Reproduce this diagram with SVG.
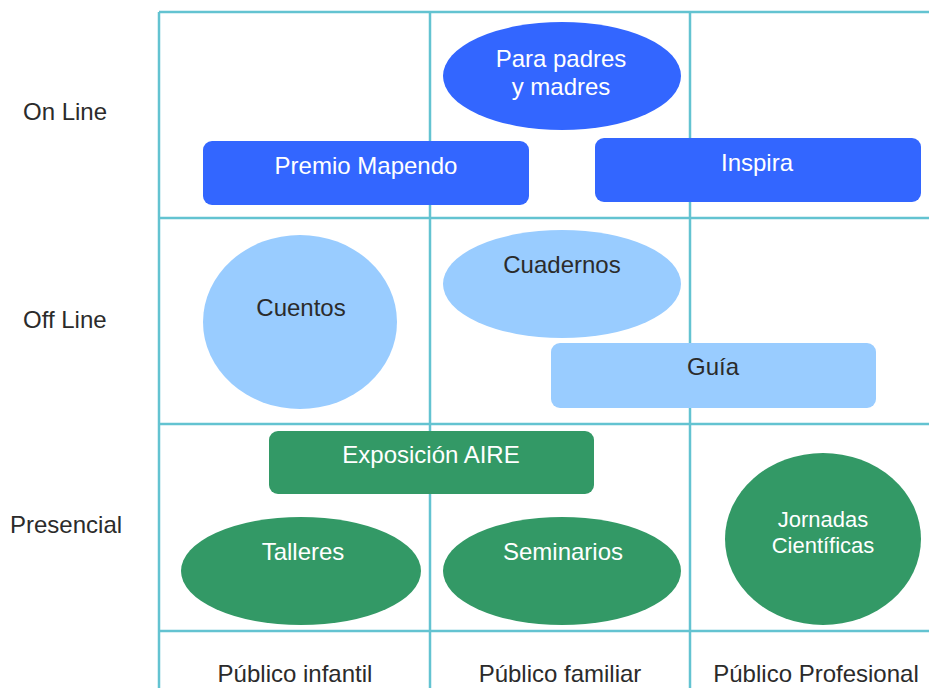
<svg xmlns="http://www.w3.org/2000/svg" width="929" height="688" viewBox="0 0 929 688">
<style>
.grid{stroke:#63c3d1;stroke-width:2.5;fill:none}
.blue{fill:#3366ff}
.light{fill:#99ccff}
.green{fill:#339966}
text{font-family:"Liberation Sans",Arial,sans-serif;font-size:24px}
.w{fill:#ffffff;text-anchor:middle}
.d{fill:#2b2b2b;text-anchor:middle}
.lbl{fill:#2b2b2b}
</style>
<rect width="929" height="688" fill="#ffffff"/>
<g id="grid">
<line class="grid" x1="159" y1="12" x2="159" y2="688"/>
<line class="grid" x1="430" y1="12" x2="430" y2="688"/>
<line class="grid" x1="690" y1="12" x2="690" y2="688"/>
<line class="grid" x1="159" y1="12" x2="929" y2="12"/>
<line class="grid" x1="159" y1="218" x2="929" y2="218"/>
<line class="grid" x1="159" y1="424" x2="929" y2="424"/>
<line class="grid" x1="159" y1="631" x2="929" y2="631"/>
</g>
<g id="labels">
<text class="lbl" x="23" y="120">On Line</text>
<text class="lbl" x="23" y="328">Off Line</text>
<text class="lbl" x="10" y="533">Presencial</text>
<text class="lbl" x="295" y="682" text-anchor="middle">Público infantil</text>
<text class="lbl" x="560" y="682" text-anchor="middle">Público familiar</text>
<text class="lbl" x="816" y="682" text-anchor="middle">Público Profesional</text>
</g>
<g id="padres">
<ellipse class="blue" cx="562" cy="76" rx="119" ry="54"/>
<text class="w" x="561" y="67">Para padres</text>
<text class="w" x="561" y="95">y madres</text>
</g>
<g id="premio">
<rect class="blue" x="203" y="141" width="326" height="64" rx="9"/>
<text class="w" x="366" y="174">Premio Mapendo</text>
</g>
<g id="inspira">
<rect class="blue" x="595" y="138" width="326" height="64" rx="9"/>
<text class="w" x="757" y="171">Inspira</text>
</g>
<g id="cuentos">
<ellipse class="light" cx="300" cy="322" rx="97" ry="87"/>
<text class="d" x="301" y="316">Cuentos</text>
</g>
<g id="cuadernos">
<ellipse class="light" cx="562" cy="284" rx="119" ry="54"/>
<text class="d" x="562" y="273">Cuadernos</text>
</g>
<g id="guia">
<rect class="light" x="551" y="343" width="325" height="65" rx="9"/>
<text class="d" x="713" y="375">Guía</text>
</g>
<g id="exposicion">
<rect class="green" x="269" y="431" width="325" height="63" rx="9"/>
<text class="w" x="431" y="463">Exposición AIRE</text>
</g>
<g id="talleres">
<ellipse class="green" cx="301" cy="571" rx="120" ry="54"/>
<text class="w" x="303" y="560">Talleres</text>
</g>
<g id="seminarios">
<ellipse class="green" cx="562" cy="571" rx="119" ry="54"/>
<text class="w" x="563" y="560">Seminarios</text>
</g>
<g id="jornadas">
<ellipse class="green" cx="823" cy="539" rx="98" ry="86"/>
<text class="w" x="823" y="527" style="font-size:22px">Jornadas</text>
<text class="w" x="823" y="553" style="font-size:22px">Científicas</text>
</g>
</svg>
